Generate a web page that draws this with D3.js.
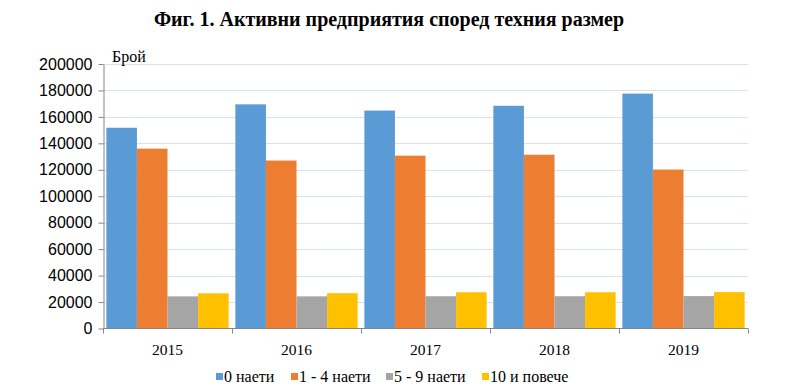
<!DOCTYPE html>
<html>
<head>
<meta charset="utf-8">
<script src="https://cdn.jsdelivr.net/npm/d3@7"></script>
<style>
  body { margin: 0; background: #fff; }
  text { font-family: "Liberation Serif", "Times New Roman", serif; fill: #000; }
</style>
</head>
<body>
<div id="chart"></div>
<script>
var years = ["2015", "2016", "2017", "2018", "2019"];
var seriesNames = ["0 наети", "1 - 4 наети", "5 - 9 наети", "10 и повече"];
var zeroEmployees = [151800, 169500, 164800, 168400, 177600];
var oneToFour = [136000, 127000, 130700, 131400, 120200];
var fiveToNine = [24300, 24300, 24400, 24400, 24500];
var tenAndMore = [26600, 26700, 27400, 27400, 27500];
var yTicks = [0, 20000, 40000, 60000, 80000, 100000, 120000, 140000, 160000, 180000, 200000];
var colors = ["#5B9BD5", "#ED7D31", "#A5A5A5", "#FFC000"];

var series = [zeroEmployees, oneToFour, fiveToNine, tenAndMore];
var width = 803, height = 389;
var margin = { top: 64, right: 55, bottom: 60, left: 103 };

var svg = d3.select("#chart").append("svg")
    .attr("width", width)
    .attr("height", height);

svg.append("text")
    .attr("x", 389)
    .attr("y", 26)
    .attr("text-anchor", "middle")
    .style("font-size", "20px")
    .style("font-weight", "bold")
    .text("Фиг. 1. Активни предприятия според техния размер");

var x = d3.scaleBand()
    .domain(years)
    .range([margin.left, width - margin.right]);

var xInner = d3.scaleBand()
    .domain(d3.range(series.length))
    .range([0, x.bandwidth()])
    .paddingOuter(0.11);

var y = d3.scaleLinear()
    .domain([0, 200000])
    .range([height - margin.bottom - 0.5, margin.top]);

// gridlines
svg.append("g")
    .selectAll("line")
    .data(yTicks.slice(1))
    .enter().append("line")
    .attr("x1", margin.left)
    .attr("x2", width - margin.right)
    .attr("y1", function (d) { return Math.round(y(d)) + 0.5; })
    .attr("y2", function (d) { return Math.round(y(d)) + 0.5; })
    .attr("stroke", "#D9E1EA")
    .attr("stroke-width", 1);

// bars
var groups = svg.append("g")
    .selectAll("g")
    .data(years)
    .enter().append("g")
    .attr("transform", function (d) { return "translate(" + x(d) + ",0)"; });

groups.selectAll("rect")
    .data(function (d, i) {
        return series.map(function (s, j) { return { k: j, v: s[i] }; });
    })
    .enter().append("rect")
    .attr("x", function (d) { return xInner(d.k); })
    .attr("width", xInner.bandwidth())
    .attr("y", function (d) { return y(d.v); })
    .attr("height", function (d) { return y(0) - y(d.v); })
    .attr("fill", function (d) { return colors[d.k]; });

// y axis
var yAxis = svg.append("g")
    .attr("transform", "translate(" + (margin.left + 0.5) + ",0)")
    .call(d3.axisLeft(y).tickValues(yTicks).tickFormat(d3.format("d")).tickSize(5).tickSizeOuter(0));
yAxis.select(".domain").attr("stroke", "#868686");
yAxis.selectAll(".tick line").attr("stroke", "#868686");
yAxis.selectAll(".tick text")
    .attr("x", -11)
    .style("font-family", "'Liberation Sans', Arial, sans-serif")
    .style("font-size", "16px")
    .attr("fill", "#000");

// x axis
var xAxisG = svg.append("g")
    .attr("transform", "translate(0," + (y(0)) + ")");
xAxisG.append("line")
    .attr("x1", margin.left)
    .attr("x2", width - margin.right)
    .attr("stroke", "#868686");
xAxisG.selectAll(".tk")
    .data(years.concat(["end"]))
    .enter().append("line")
    .attr("x1", function (d, i) { return Math.round(margin.left + i * x.step()) + 0.5; })
    .attr("x2", function (d, i) { return Math.round(margin.left + i * x.step()) + 0.5; })
    .attr("y1", 0)
    .attr("y2", 5)
    .attr("stroke", "#868686");
xAxisG.selectAll(".lbl")
    .data(years)
    .enter().append("text")
    .attr("x", function (d) { return x(d) + x.bandwidth() / 2; })
    .attr("y", 26)
    .attr("text-anchor", "middle")
    .style("font-size", "15.5px")
    .text(function (d) { return d; });

// unit label
svg.append("text")
    .attr("x", 112)
    .attr("y", 62)
    .style("font-size", "16px")
    .text("Брой");

// legend
var legendX = [216, 291, 386, 482];
var legend = svg.append("g")
    .selectAll("g")
    .data(seriesNames)
    .enter().append("g")
    .attr("transform", function (d, i) { return "translate(" + legendX[i] + "," + 377 + ")"; });
legend.append("rect")
    .attr("x", 0)
    .attr("y", -4)
    .attr("width", 7)
    .attr("height", 7)
    .attr("fill", function (d, i) { return colors[i]; });
legend.append("text")
    .attr("x", 8)
    .attr("y", 5)
    .style("font-size", "16px")
    .text(function (d) { return d; });
</script>
</body>
</html>
